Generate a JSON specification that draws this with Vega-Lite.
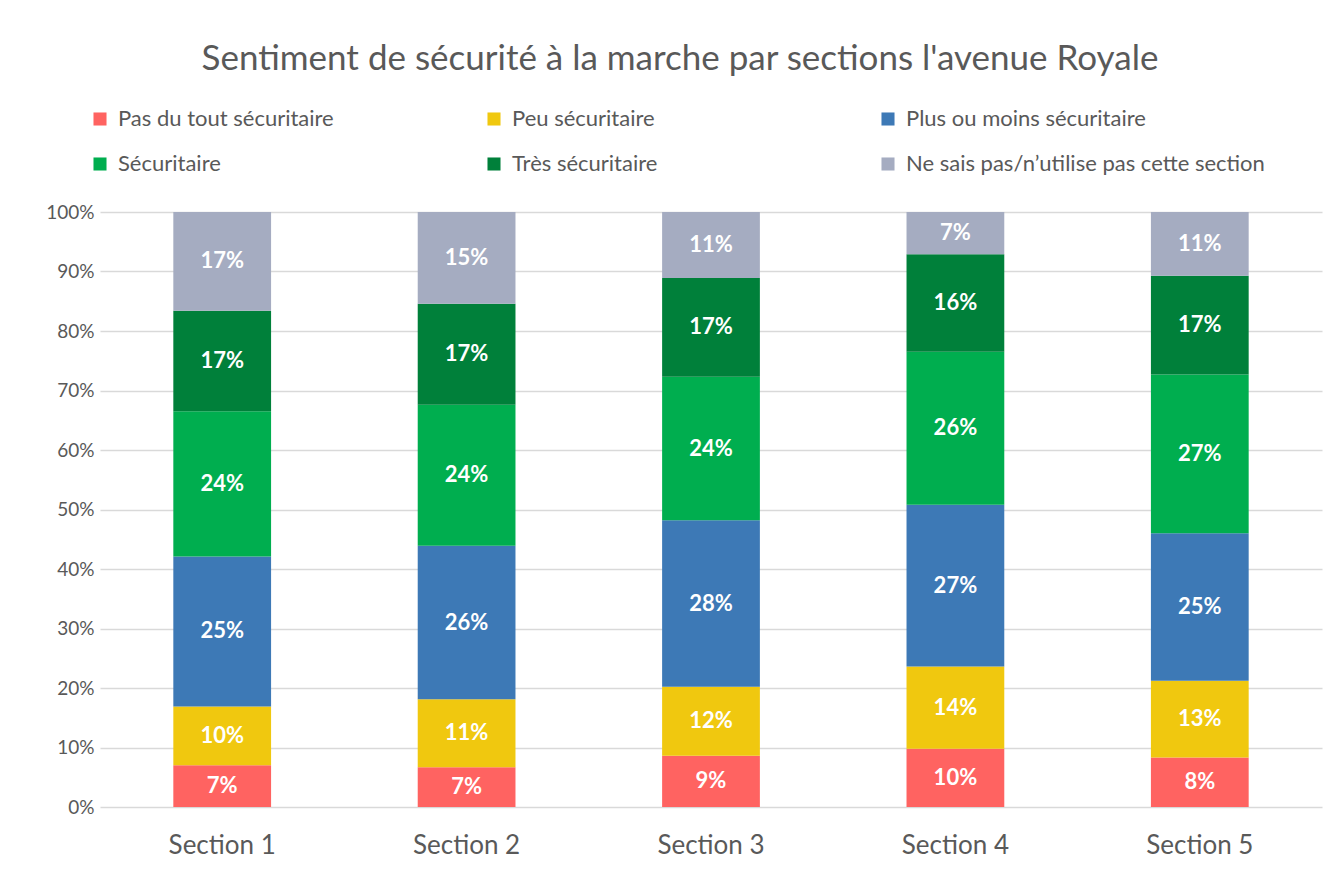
{
  "$schema": "https://vega.github.io/schema/vega-lite/v6.json",
  "width": 1222,
  "height": 595,
  "autosize": "none",
  "padding": {"left": 100, "top": 212, "right": 14, "bottom": 65},
  "background": "white",
  "title": {
    "text": "Sentiment de sécurité à la marche par sections l'avenue Royale",
    "font": "Lato",
    "fontSize": 35,
    "fontWeight": "normal",
    "color": "#595959",
    "anchor": "middle",
    "frame": "group",
    "offset": 31,
    "dx": -31
  },
  "config": {
    "view": {"stroke": null},
    "font": "Lato"
  },
  "data": {
    "values": [
      {"section": "Section 1", "cat": "Pas du tout sécuritaire", "ord": 1, "v": 0.070},
      {"section": "Section 1", "cat": "Peu sécuritaire", "ord": 2, "v": 0.099},
      {"section": "Section 1", "cat": "Plus ou moins sécuritaire", "ord": 3, "v": 0.252},
      {"section": "Section 1", "cat": "Sécuritaire", "ord": 4, "v": 0.244},
      {"section": "Section 1", "cat": "Très sécuritaire", "ord": 5, "v": 0.169},
      {"section": "Section 1", "cat": "Ne sais pas/n’utilise pas cette section", "ord": 6, "v": 0.166},
      {"section": "Section 2", "cat": "Pas du tout sécuritaire", "ord": 1, "v": 0.067},
      {"section": "Section 2", "cat": "Peu sécuritaire", "ord": 2, "v": 0.114},
      {"section": "Section 2", "cat": "Plus ou moins sécuritaire", "ord": 3, "v": 0.258},
      {"section": "Section 2", "cat": "Sécuritaire", "ord": 4, "v": 0.237},
      {"section": "Section 2", "cat": "Très sécuritaire", "ord": 5, "v": 0.170},
      {"section": "Section 2", "cat": "Ne sais pas/n’utilise pas cette section", "ord": 6, "v": 0.154},
      {"section": "Section 3", "cat": "Pas du tout sécuritaire", "ord": 1, "v": 0.086},
      {"section": "Section 3", "cat": "Peu sécuritaire", "ord": 2, "v": 0.116},
      {"section": "Section 3", "cat": "Plus ou moins sécuritaire", "ord": 3, "v": 0.280},
      {"section": "Section 3", "cat": "Sécuritaire", "ord": 4, "v": 0.241},
      {"section": "Section 3", "cat": "Très sécuritaire", "ord": 5, "v": 0.166},
      {"section": "Section 3", "cat": "Ne sais pas/n’utilise pas cette section", "ord": 6, "v": 0.111},
      {"section": "Section 4", "cat": "Pas du tout sécuritaire", "ord": 1, "v": 0.098},
      {"section": "Section 4", "cat": "Peu sécuritaire", "ord": 2, "v": 0.138},
      {"section": "Section 4", "cat": "Plus ou moins sécuritaire", "ord": 3, "v": 0.272},
      {"section": "Section 4", "cat": "Sécuritaire", "ord": 4, "v": 0.257},
      {"section": "Section 4", "cat": "Très sécuritaire", "ord": 5, "v": 0.164},
      {"section": "Section 4", "cat": "Ne sais pas/n’utilise pas cette section", "ord": 6, "v": 0.071},
      {"section": "Section 5", "cat": "Pas du tout sécuritaire", "ord": 1, "v": 0.083},
      {"section": "Section 5", "cat": "Peu sécuritaire", "ord": 2, "v": 0.129},
      {"section": "Section 5", "cat": "Plus ou moins sécuritaire", "ord": 3, "v": 0.248},
      {"section": "Section 5", "cat": "Sécuritaire", "ord": 4, "v": 0.267},
      {"section": "Section 5", "cat": "Très sécuritaire", "ord": 5, "v": 0.166},
      {"section": "Section 5", "cat": "Ne sais pas/n’utilise pas cette section", "ord": 6, "v": 0.107}
    ]
  },
  "transform": [
    {"window": [{"op": "sum", "field": "v", "as": "cum"}], "groupby": ["section"], "sort": [{"field": "ord"}]},
    {"calculate": "datum.cum - datum.v / 2", "as": "mid"}
  ],
  "encoding": {
    "x": {
      "field": "section",
      "type": "nominal",
      "scale": {"paddingInner": 0.6, "paddingOuter": 0.3},
      "axis": {
        "title": null,
        "labelAngle": 0,
        "labelFontSize": 26,
        "labelColor": "#595959",
        "labelPadding": 25,
        "ticks": false,
        "domain": false
      }
    }
  },
  "layer": [
    {
      "mark": {"type": "bar"},
      "encoding": {
        "y": {
          "field": "v",
          "type": "quantitative",
          "stack": "zero",
          "scale": {"domain": [0, 1]},
          "axis": {
            "title": null,
            "format": ".0%",
            "values": [0, 0.1, 0.2, 0.3, 0.4, 0.5, 0.6, 0.7, 0.8, 0.9, 1],
            "labelFontSize": 19,
            "labelColor": "#595959",
            "labelPadding": 6,
            "ticks": false,
            "domain": false,
            "gridColor": "#D9D9D9",
            "gridWidth": 1.5
          }
        },
        "color": {
          "field": "cat",
          "type": "nominal",
          "scale": {
            "domain": ["Pas du tout sécuritaire", "Peu sécuritaire", "Plus ou moins sécuritaire", "Sécuritaire", "Très sécuritaire", "Ne sais pas/n’utilise pas cette section"],
            "range": ["#FF6361", "#F0C80F", "#3D79B6", "#00AE4F", "#00803A", "#A5ACC1"]
          },
          "legend": {
            "title": null,
            "orient": "none",
            "legendX": -11,
            "legendY": -104,
            "columns": 3,
            "direction": "horizontal",
            "gridAlign": "all",
            "columnPadding": 6,
            "rowPadding": 23,
            "symbolType": "square",
            "symbolSize": 170,
            "symbolStrokeWidth": 0,
            "symbolOffset": 0,
            "labelOffset": 7,
            "labelFontSize": 22,
            "labelColor": "#595959",
            "labelLimit": 500
          }
        },
        "order": {"field": "ord", "type": "quantitative"}
      }
    },
    {
      "mark": {"type": "text", "color": "white", "fontWeight": "bold", "fontSize": 22, "baseline": "middle", "align": "center"},
      "encoding": {
        "y": {"field": "mid", "type": "quantitative", "scale": {"domain": [0, 1]}},
        "text": {"field": "v", "type": "quantitative", "format": ".0%"}
      }
    }
  ]
}
